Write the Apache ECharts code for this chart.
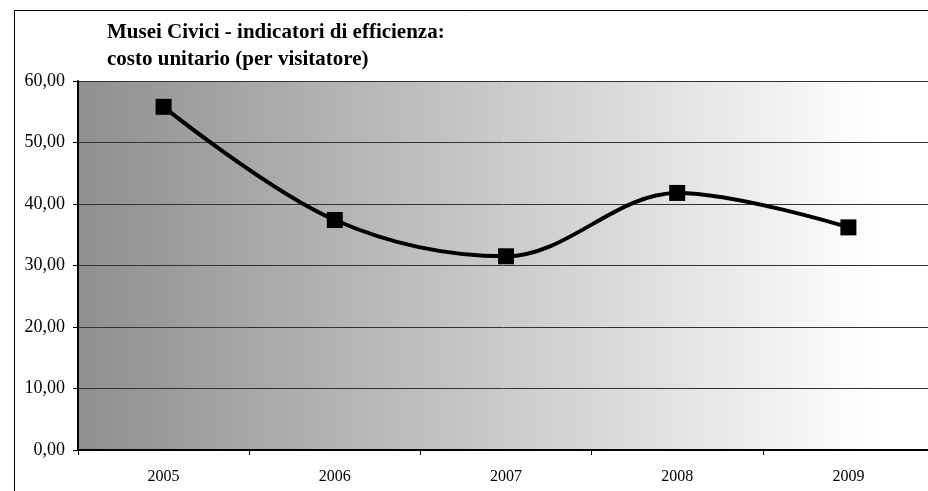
<!DOCTYPE html>
<html><head><meta charset="utf-8">
<script src="https://cdn.jsdelivr.net/npm/echarts@6/dist/echarts.min.js"></script>
<style>html,body{margin:0;padding:0;background:#fff}#c{width:928px;height:491px}</style>
</head><body><div id="c"></div>
<script>
const titleLines = ['Musei Civici - indicatori di efficienza:', 'costo unitario (per visitatore)'];
const categories = ['2005', '2006', '2007', '2008', '2009'];
const values = [55.8, 37.4, 31.5, 41.8, 36.2];
const yTicks = [0, 10, 20, 30, 40, 50, 60];

const chart = echarts.init(document.getElementById('c'));
chart.setOption({
  animation: false,
  graphic: [{
    type: 'rect', shape: {x: 14.5, y: 10.5, width: 1000, height: 1000},
    style: {fill: 'none', stroke: '#000', lineWidth: 1}, z: -10
  }],
  title: {
    text: titleLines.join('\n'), left: 102, top: 14,
    textStyle: {fontFamily: 'Liberation Serif', fontWeight: 'bold', fontSize: 21, lineHeight: 27, color: '#000'}
  },
  grid: {
    left: 78, top: 81, width: 856, height: 369, show: true, borderWidth: 0,
    outerBoundsMode: 'none', containLabel: false,
    backgroundColor: {type: 'linear', x: 0, y: 0, x2: 1, y2: 0,
      colorStops: [{offset: 0, color: '#8f8f8f'}, {offset: 0.936, color: '#ffffff'}, {offset: 1, color: '#ffffff'}]}
  },
  xAxis: {
    type: 'category', data: categories, boundaryGap: true,
    axisLine: {lineStyle: {color: '#000', width: 2}},
    axisTick: {show: true, length: 5, lineStyle: {color: '#000', width: 1}},
    axisLabel: {fontFamily: 'Liberation Serif', fontSize: 16, color: '#000', margin: 19}
  },
  yAxis: {
    type: 'value', min: yTicks[0], max: yTicks[yTicks.length - 1], interval: 10,
    axisLine: {show: true, lineStyle: {color: '#000', width: 2}},
    axisTick: {show: true, length: 5, lineStyle: {color: '#000'}},
    splitLine: {show: true, lineStyle: {color: '#333', width: 1}},
    axisLabel: {fontFamily: 'Liberation Serif', fontSize: 18, color: '#000', margin: 13,
      formatter: v => v.toFixed(2).replace('.', ',')}
  },
  series: [{
    type: 'line', data: values, smooth: 0.35,
    symbol: 'rect', symbolSize: 16,
    lineStyle: {color: '#000', width: 4},
    itemStyle: {color: '#000'}
  }]
});
</script></body></html>
